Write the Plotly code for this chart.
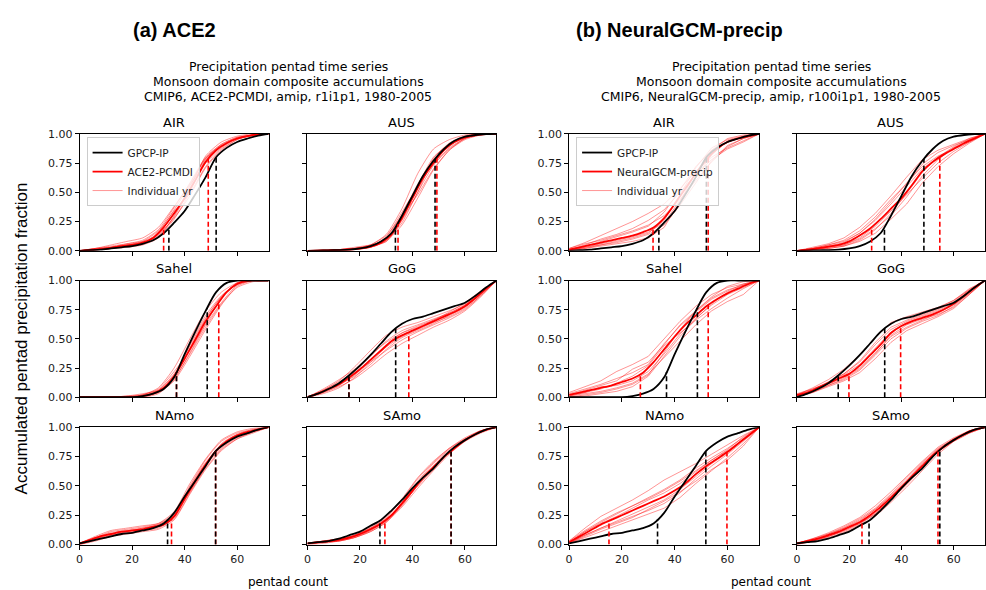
import numpy as np
import plotly.graph_objects as go

# ---------------------------------------------------------------- data
PENTADS = [0, 4, 8, 12, 16, 20, 24, 28, 32, 36, 40, 44, 48, 52, 56, 60, 64, 68, 72]
YEAR_PENTADS = [0, 6, 12, 18, 24, 30, 36, 42, 48, 54, 60, 66, 72]
REGIONS = [["AIR", "AUS"], ["Sahel", "GoG"], ["NAmo", "SAmo"]]
Y_TICKS = [0, 0.25, 0.5, 0.75, 1.0]
Y_TICK_TEXT = ["0.00", "0.25", "0.50", "0.75", "1.00"]
X_TICKS = [0, 20, 40, 60]

# observed composite accumulation (GPCP-IP), fraction of annual total
GPCP = {
    "AIR":   [0, .005, .01, .02, .03, .04, .06, .09, .15, .24, .34, .48, .63, .80, .88, .93, .96, .985, 1],
    "AUS":   [0, .002, .004, .006, .01, .02, .04, .08, .15, .30, .47, .64, .77, .87, .94, .975, .99, .997, 1],
    "Sahel": [0, 0, 0, 0, 0, 0, .01, .03, .07, .17, .37, .56, .74, .90, .98, 1, 1, 1, 1],
    "GoG":   [0, .03, .07, .12, .19, .27, .36, .46, .56, .63, .67, .69, .72, .75, .78, .81, .87, .94, 1],
    "NAmo":  [.01, .03, .05, .07, .09, .10, .12, .14, .18, .27, .41, .54, .67, .80, .87, .92, .95, .98, 1],
    "SAmo":  [.01, .02, .03, .05, .08, .11, .16, .21, .29, .38, .48, .57, .65, .75, .83, .89, .94, .98, 1],
}

# model composite accumulations
ACE2_MEAN = {
    "AIR":   [0, .007, .015, .025, .04, .05, .07, .11, .20, .32, .45, .60, .76, .86, .92, .96, .98, .995, 1],
    "AUS":   [0, .002, .004, .006, .01, .02, .035, .07, .14, .28, .45, .62, .75, .86, .93, .97, .99, 1, 1],
    "Sahel": [0, 0, 0, 0, 0, 0, .01, .03, .08, .18, .33, .49, .65, .78, .90, .97, 1, 1, 1],
    "GoG":   [0, .03, .07, .11, .17, .24, .32, .40, .48, .53, .57, .61, .65, .69, .73, .78, .85, .93, 1],
    "NAmo":  [.01, .04, .07, .09, .11, .12, .13, .15, .17, .24, .39, .54, .68, .80, .88, .93, .96, .98, 1],
    "SAmo":  [.01, .02, .03, .04, .06, .09, .13, .18, .25, .35, .46, .57, .66, .75, .82, .89, .94, .98, 1],
}
NGCM_MEAN = {
    "AIR":   [.01, .03, .05, .07, .09, .11, .13, .16, .20, .28, .40, .53, .66, .78, .87, .93, .96, .98, 1],
    "AUS":   [0, .01, .02, .035, .05, .08, .13, .19, .27, .36, .45, .56, .68, .76, .82, .87, .92, .96, 1],
    "Sahel": [.02, .04, .06, .08, .10, .13, .16, .21, .30, .41, .52, .62, .70, .78, .84, .89, .93, .97, 1],
    "GoG":   [.02, .04, .08, .12, .16, .20, .27, .36, .45, .55, .61, .65, .68, .71, .75, .80, .87, .94, 1],
    "NAmo":  [.02, .07, .12, .17, .21, .25, .29, .33, .37, .41, .46, .52, .60, .67, .73, .79, .86, .93, 1],
    "SAmo":  [.01, .03, .05, .08, .11, .15, .19, .25, .32, .40, .49, .58, .67, .76, .83, .89, .94, .98, 1],
}

# individual years (percent of annual total at YEAR_PENTADS)
ACE2_YEARS = {
    "AIR": [
        [0, 1, 3, 6, 9, 18, 37, 58, 80, 91, 97, 99, 100],
        [0, 2, 4, 6, 8, 14, 28, 47, 71, 86, 95, 99, 100],
        [0, 1, 2, 4, 6, 12, 27, 50, 78, 90, 96, 99, 100],
        [0, 2, 5, 8, 11, 20, 38, 57, 79, 90, 96, 98, 100],
        [0, 1, 2, 3, 5, 11, 30, 55, 79, 91, 97, 99, 100],
        [0, 1, 3, 5, 8, 17, 34, 49, 72, 87, 95, 99, 100],
        [0, 2, 3, 5, 7, 13, 29, 53, 81, 93, 98, 100, 100],
        [0, 1, 2, 4, 6, 16, 35, 56, 75, 88, 96, 99, 100],
    ],
    "AUS": [
        [0, 0, 1, 2, 5, 14, 36, 66, 87, 95, 99, 100, 100],
        [0, 0, 1, 1, 3, 8, 22, 45, 69, 86, 96, 100, 100],
        [0, 0, 1, 2, 4, 11, 31, 57, 78, 90, 97, 99, 100],
        [0, 1, 1, 3, 5, 9, 24, 50, 73, 88, 96, 99, 100],
        [0, 0, 0, 1, 3, 12, 33, 55, 74, 87, 96, 100, 100],
        [0, 0, 1, 2, 4, 8, 26, 50, 79, 92, 98, 100, 100],
        [0, 0, 1, 2, 5, 13, 30, 48, 70, 86, 95, 99, 100],
        [0, 0, 1, 2, 3, 9, 27, 56, 80, 91, 97, 100, 100],
    ],
    "Sahel": [
        [0, 0, 0, 0, 2, 8, 25, 50, 74, 90, 98, 100, 100],
        [0, 0, 0, 0, 1, 4, 14, 35, 58, 79, 95, 100, 100],
        [0, 0, 0, 1, 2, 6, 20, 44, 68, 86, 97, 100, 100],
        [0, 0, 0, 0, 0, 3, 15, 38, 62, 81, 96, 100, 100],
        [0, 0, 0, 0, 2, 7, 22, 40, 63, 85, 98, 100, 100],
        [0, 0, 0, 0, 1, 5, 17, 45, 70, 87, 97, 100, 100],
        [0, 0, 0, 0, 1, 4, 16, 37, 60, 80, 94, 99, 100],
        [0, 0, 0, 1, 3, 6, 19, 42, 67, 86, 98, 100, 100],
    ],
    "GoG": [
        [0, 6, 14, 26, 40, 53, 60, 64, 69, 74, 80, 90, 100],
        [0, 4, 9, 16, 26, 37, 46, 53, 60, 66, 74, 86, 100],
        [0, 5, 12, 22, 35, 48, 57, 62, 67, 72, 79, 90, 100],
        [0, 6, 13, 21, 30, 40, 49, 56, 62, 68, 75, 87, 100],
        [0, 4, 10, 19, 31, 45, 55, 61, 66, 72, 79, 89, 100],
        [0, 5, 11, 18, 28, 41, 51, 57, 63, 70, 77, 88, 100],
        [0, 7, 15, 24, 36, 47, 55, 60, 66, 73, 81, 91, 100],
        [0, 3, 8, 17, 30, 43, 52, 58, 64, 69, 76, 87, 100],
    ],
    "NAmo": [
        [1, 7, 12, 14, 16, 18, 26, 50, 72, 88, 95, 98, 100],
        [0, 4, 7, 9, 11, 13, 21, 43, 64, 80, 90, 96, 100],
        [1, 6, 10, 12, 14, 17, 25, 49, 70, 85, 92, 97, 100],
        [0, 5, 8, 10, 12, 15, 22, 44, 66, 86, 94, 98, 100],
        [1, 6, 11, 13, 15, 18, 28, 52, 73, 89, 96, 99, 100],
        [0, 3, 7, 10, 12, 14, 23, 46, 67, 82, 91, 96, 100],
        [1, 5, 9, 11, 13, 16, 24, 48, 69, 83, 92, 97, 100],
        [0, 4, 8, 11, 14, 17, 25, 45, 65, 81, 90, 95, 100],
    ],
    "SAmo": [
        [1, 3, 5, 8, 14, 23, 38, 56, 70, 82, 91, 97, 100],
        [1, 2, 3, 6, 11, 19, 32, 48, 63, 77, 88, 96, 100],
        [1, 2, 4, 7, 12, 21, 36, 53, 67, 80, 89, 96, 100],
        [0, 2, 4, 8, 14, 22, 34, 50, 64, 78, 88, 95, 100],
        [1, 3, 5, 7, 13, 20, 36, 54, 69, 81, 90, 97, 100],
        [1, 2, 3, 6, 12, 20, 33, 51, 66, 79, 89, 96, 100],
        [1, 2, 4, 8, 15, 24, 39, 57, 71, 82, 90, 97, 100],
        [0, 1, 3, 6, 11, 19, 34, 50, 65, 78, 89, 96, 100],
    ],
}
NGCM_YEARS = {
    "AIR": [
        [2, 7, 13, 19, 25, 32, 40, 53, 68, 80, 88, 94, 100],
        [0, 2, 4, 6, 8, 11, 20, 42, 67, 86, 96, 99, 100],
        [1, 5, 10, 14, 19, 26, 35, 50, 65, 78, 87, 93, 100],
        [1, 3, 5, 8, 11, 15, 26, 48, 71, 88, 95, 98, 100],
        [2, 6, 9, 13, 17, 22, 30, 44, 60, 76, 89, 96, 100],
        [0, 3, 6, 9, 12, 16, 24, 43, 63, 82, 94, 98, 100],
        [1, 4, 8, 12, 16, 21, 33, 52, 72, 86, 93, 97, 100],
        [1, 2, 5, 7, 10, 14, 22, 39, 58, 77, 90, 96, 100],
    ],
    "AUS": [
        [0, 3, 6, 11, 20, 32, 47, 63, 78, 86, 91, 96, 100],
        [0, 1, 2, 4, 8, 15, 27, 40, 58, 72, 83, 92, 100],
        [0, 2, 5, 8, 15, 26, 40, 55, 70, 80, 88, 94, 100],
        [0, 1, 3, 5, 10, 19, 30, 46, 64, 78, 88, 95, 100],
        [0, 2, 4, 7, 15, 27, 42, 58, 72, 81, 87, 93, 100],
        [0, 1, 3, 5, 11, 21, 34, 48, 62, 75, 85, 93, 100],
        [0, 2, 5, 9, 17, 29, 44, 57, 74, 84, 90, 95, 100],
        [0, 1, 2, 4, 9, 18, 32, 49, 67, 80, 89, 96, 100],
    ],
    "Sahel": [
        [4, 9, 14, 22, 28, 35, 50, 65, 78, 88, 94, 97, 100],
        [0, 1, 3, 5, 9, 18, 35, 52, 67, 80, 90, 96, 100],
        [2, 6, 10, 14, 24, 30, 45, 62, 74, 85, 92, 96, 100],
        [1, 3, 5, 8, 12, 20, 34, 48, 62, 74, 82, 88, 100],
        [3, 7, 11, 16, 21, 28, 46, 61, 73, 84, 91, 97, 100],
        [0, 2, 4, 7, 11, 19, 38, 58, 74, 86, 95, 99, 100],
        [2, 4, 7, 12, 18, 27, 44, 55, 66, 76, 85, 93, 100],
        [1, 4, 9, 10, 14, 22, 37, 54, 68, 79, 88, 94, 100],
    ],
    "GoG": [
        [2, 8, 15, 24, 36, 51, 64, 69, 73, 77, 83, 92, 100],
        [1, 4, 9, 14, 21, 33, 47, 57, 63, 69, 76, 88, 100],
        [2, 7, 13, 20, 30, 45, 58, 65, 70, 75, 82, 92, 100],
        [1, 5, 10, 15, 23, 36, 50, 59, 65, 70, 78, 89, 100],
        [3, 7, 12, 19, 28, 42, 56, 64, 69, 74, 81, 91, 100],
        [1, 5, 11, 17, 25, 38, 52, 60, 66, 72, 79, 89, 100],
        [2, 6, 13, 20, 31, 47, 60, 66, 71, 76, 83, 93, 100],
        [1, 4, 10, 16, 24, 37, 53, 62, 67, 71, 77, 88, 100],
    ],
    "NAmo": [
        [3, 14, 24, 31, 38, 46, 55, 62, 69, 77, 85, 93, 100],
        [1, 6, 11, 16, 21, 26, 31, 40, 52, 63, 74, 86, 100],
        [2, 11, 19, 26, 33, 40, 47, 55, 65, 74, 82, 91, 100],
        [1, 8, 14, 19, 24, 29, 35, 44, 56, 67, 77, 88, 100],
        [3, 12, 20, 27, 33, 39, 46, 54, 63, 72, 80, 90, 100],
        [2, 8, 14, 20, 26, 32, 38, 47, 58, 69, 78, 89, 100],
        [2, 11, 18, 24, 31, 38, 44, 52, 62, 72, 81, 92, 100],
        [1, 7, 13, 18, 23, 30, 37, 45, 54, 64, 72, 84, 100],
    ],
    "SAmo": [
        [1, 5, 10, 16, 23, 33, 45, 58, 71, 83, 91, 97, 100],
        [1, 3, 6, 10, 16, 24, 36, 49, 63, 77, 88, 95, 100],
        [1, 4, 8, 14, 20, 30, 42, 55, 69, 81, 90, 96, 100],
        [0, 3, 7, 12, 18, 27, 38, 51, 65, 79, 89, 96, 100],
        [1, 5, 9, 15, 22, 31, 43, 57, 70, 82, 90, 97, 100],
        [1, 4, 7, 12, 18, 26, 38, 52, 66, 79, 88, 95, 100],
        [1, 4, 9, 14, 21, 30, 41, 54, 68, 81, 90, 97, 100],
        [0, 3, 7, 11, 17, 26, 39, 52, 66, 80, 89, 96, 100],
    ],
}

# onset / decay pentads
GPCP_DATES = {"AIR": (34, 52), "AUS": (33.5, 48.6), "Sahel": (36.9, 48.6),
              "GoG": (15.8, 33.6), "NAmo": (33.5, 51.8), "SAmo": (27.6, 54.7)}
ACE2_DATES = {"AIR": (32, 49), "AUS": (34.5, 49.3), "Sahel": (36.9, 53),
              "GoG": (15.8, 38.6), "NAmo": (35, 51.8), "SAmo": (29.5, 54.7)}
NGCM_DATES = {"AIR": (31.8, 52.7), "AUS": (28.6, 54.7), "Sahel": (27, 52.7),
              "GoG": (19.9, 39.7), "NAmo": (15.1, 59.8), "SAmo": (24.9, 54.0)}

GROUPS = [
    dict(model="ACE2-PCMDI", mean=ACE2_MEAN, years=ACE2_YEARS, dates=ACE2_DATES,
         legend="legend", year_shape="spline"),
    dict(model="NeuralGCM-precip", mean=NGCM_MEAN, years=NGCM_YEARS, dates=NGCM_DATES,
         legend="legend2", year_shape="linear"),
]

# ---------------------------------------------------------------- layout geometry
W, H = 986, 590
COL_PX = [(76, 266), (305, 495), (568, 759), (797, 986)]
ROW_PX = [(130.7, 250.3), (280.7, 400.0), (430.7, 550.7)]

TICK_FONT = dict(family="DejaVu Sans", size=11, color="#1a1a1a")
RED = "#ff0000"
PALE = "rgba(255,0,0,0.42)"

fig = go.Figure()
layout = {}
annotations = []

ax = 0
for g, grp in enumerate(GROUPS):
    for r in range(3):
        for c in range(2):
            ax += 1
            region = REGIONS[r][c]
            xname = "x" if ax == 1 else f"x{ax}"
            yname = "y" if ax == 1 else f"y{ax}"
            x0, x1 = COL_PX[2 * g + c]
            top, bot = ROW_PX[r]

            layout["xaxis" if ax == 1 else f"xaxis{ax}"] = dict(
                domain=[x0 / W, x1 / W], range=[0, 72], anchor=yname,
                tickvals=X_TICKS, showticklabels=(r == 2), tickfont=TICK_FONT,
                ticks="outside", ticklen=4, tickwidth=1, tickcolor="black",
                showline=True, mirror=True, linecolor="black", linewidth=1,
                showgrid=False, zeroline=False,
            )
            layout["yaxis" if ax == 1 else f"yaxis{ax}"] = dict(
                domain=[1 - bot / H, 1 - top / H], range=[0, 1], anchor=xname,
                tickvals=Y_TICKS, ticktext=Y_TICK_TEXT, showticklabels=(c == 0),
                tickfont=TICK_FONT,
                ticks="outside", ticklen=4, tickwidth=1, tickcolor="black",
                showline=True, mirror=True, linecolor="black", linewidth=1,
                showgrid=False, zeroline=False,
            )

            first = (r == 0 and c == 0)

            # individual years
            for k, yr in enumerate(grp["years"][region]):
                fig.add_trace(go.Scatter(
                    x=YEAR_PENTADS, y=np.array(yr) / 100.0, mode="lines",
                    line=dict(color=PALE, width=1, shape=grp["year_shape"], smoothing=0.6),
                    name="Individual yr", showlegend=(first and k == 0),
                    legend=grp["legend"], legendrank=3,
                    xaxis=xname, yaxis=yname, hoverinfo="skip",
                ))

            mean = grp["mean"][region]
            obs = GPCP[region]
            fig.add_trace(go.Scatter(
                x=PENTADS, y=mean, mode="lines",
                line=dict(color=RED, width=1.8, shape="spline", smoothing=0.8),
                name=grp["model"], showlegend=first, legend=grp["legend"], legendrank=2,
                xaxis=xname, yaxis=yname,
            ))
            fig.add_trace(go.Scatter(
                x=PENTADS, y=obs, mode="lines",
                line=dict(color="black", width=1.8, shape="spline", smoothing=0.8),
                name="GPCP-IP", showlegend=first, legend=grp["legend"], legendrank=1,
                xaxis=xname, yaxis=yname,
            ))

            # onset / decay markers
            for dates, curve, col in ((grp["dates"][region], mean, RED),
                                      (GPCP_DATES[region], obs, "black")):
                for p in dates:
                    fig.add_trace(go.Scatter(
                        x=[p, p], y=[0, float(np.interp(p, PENTADS, curve))], mode="lines",
                        line=dict(color=col, width=1.6, dash="5px,3px"),
                        showlegend=False, xaxis=xname, yaxis=yname, hoverinfo="skip",
                    ))

            annotations.append(dict(
                text=region, x=(x0 + x1) / 2 / W, y=1 - (top - 12) / H,
                xref="paper", yref="paper", showarrow=False,
                xanchor="center", yanchor="middle",
                font=dict(family="DejaVu Sans", size=13, color="black"),
            ))

# group headers
HEAD_FONT = dict(family="Liberation Sans", size=20, color="black")
SUB_FONT = dict(family="DejaVu Sans", size=12.5, color="black")
for gx, head in ((171, "<b>(a) ACE2</b>"), (679, "<b>(b) NeuralGCM-precip</b>")):
    annotations.append(dict(text=head, x=gx / W, y=1 - 25 / H, xref="paper", yref="paper",
                            showarrow=False, xanchor="center", yanchor="middle", font=HEAD_FONT))
centers = [285.5, 771]
subs = ["CMIP6, ACE2-PCMDI, amip, r1i1p1, 1980-2005",
        "CMIP6, NeuralGCM-precip, amip, r100i1p1, 1980-2005"]
for cx, s in zip(centers, subs):
    for line, py in (("Precipitation pentad time series", 61.5),
                     ("Monsoon domain composite accumulations", 77),
                     (s, 92.5)):
        annotations.append(dict(text=line, x=cx / W, y=1 - py / H, xref="paper", yref="paper",
                                showarrow=False, xanchor="center", yanchor="middle", font=SUB_FONT))
    annotations.append(dict(text="pentad count", x=cx / W, y=1 - 589 / H, xref="paper",
                            yref="paper", showarrow=False, xanchor="center", yanchor="middle",
                            font=dict(family="DejaVu Sans", size=12, color="black")))

annotations.append(dict(text="Accumulated pentad precipitation fraction", x=18 / W, y=1 - 340 / H,
                        xref="paper", yref="paper", showarrow=False, textangle=-90,
                        xanchor="center", yanchor="middle",
                        font=dict(family="Liberation Sans", size=17, color="black")))

LEG = dict(font=dict(family="DejaVu Sans", size=10.5, color="#1a1a1a"),
           bgcolor="rgba(255,255,255,0.8)", bordercolor="#cccccc", borderwidth=1,
           xanchor="left", yanchor="top", tracegroupgap=0, itemwidth=30)
layout["legend"] = dict(LEG, x=83 / W, y=1 - 134 / H)
layout["legend2"] = dict(LEG, x=575 / W, y=1 - 134 / H)

fig.update_layout(
    width=W, height=H, margin=dict(l=0, r=0, t=0, b=0),
    paper_bgcolor="white", plot_bgcolor="white",
    annotations=annotations, showlegend=True, **layout,
)

fig.write_html("out.html")
